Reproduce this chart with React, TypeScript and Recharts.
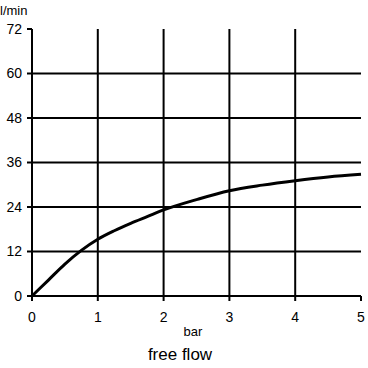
import { LineChart, Line, XAxis, YAxis, ReferenceLine } from 'recharts';

// pressure (bar) vs free flow (l/min)
const pressure = [0, 0.25, 0.5, 0.75, 1, 1.25, 1.5, 1.75, 2, 2.5, 3, 3.5, 4, 4.5, 5];
const flow = [0, 4.3, 8.6, 12.3, 15.3, 17.6, 19.6, 21.4, 23.2, 26.0, 28.4, 29.9, 31.1, 32.1, 32.8];

const xTicks = [0, 1, 2, 3, 4, 5];
const yTicks = [0, 12, 24, 36, 48, 60, 72];
const xGrid = [1, 2, 3, 4];
const yGrid = [12, 24, 36, 48, 60];

const FONT = '"Liberation Sans", Arial, sans-serif';

const data = pressure.map((p, i) => ({ p, q: flow[i] }));

export default function App() {
    return (
        <div style={{ position: 'absolute', left: 0, top: 0, width: 368, height: 368, background: '#fff', fontFamily: FONT }}>
            <div style={{ position: 'absolute', left: 0, top: 4, fontSize: 13, lineHeight: '14px', color: '#000' }}>l/min</div>
            <LineChart
                width={368}
                height={368}
                data={data}
                margin={{ top: 29, right: 7, left: 0, bottom: 42 }}
            >
                <XAxis
                    dataKey="p"
                    type="number"
                    domain={[0, 5]}
                    ticks={xTicks}
                    height={30}
                    stroke="#000"
                    strokeWidth={2}
                    tickSize={5}
                    tickMargin={11}
                    tick={{ fill: '#000', fontSize: 14, fontFamily: FONT }}
                />
                <YAxis
                    type="number"
                    domain={[0, 72]}
                    ticks={yTicks}
                    width={32}
                    stroke="#000"
                    strokeWidth={2}
                    tickSize={5}
                    tickMargin={5}
                    tick={{ fill: '#000', fontSize: 14, fontFamily: FONT }}
                />
                {yGrid.map((v) => (
                    <ReferenceLine key={`y-${v}`} y={v} stroke="#000" strokeWidth={2} />
                ))}
                {xGrid.map((v) => (
                    <ReferenceLine key={`x-${v}`} x={v} stroke="#000" strokeWidth={2} />
                ))}
                <Line
                    type="monotone"
                    dataKey="q"
                    stroke="#000"
                    strokeWidth={3}
                    dot={false}
                    isAnimationActive={false}
                />
            </LineChart>
            <div style={{ position: 'absolute', left: 163, top: 324, width: 60, textAlign: 'center', fontSize: 13, color: '#000' }}>bar</div>
            <div style={{ position: 'absolute', left: 100, top: 345, width: 160, textAlign: 'center', fontSize: 17, color: '#000' }}>free flow</div>
        </div>
    );
}
